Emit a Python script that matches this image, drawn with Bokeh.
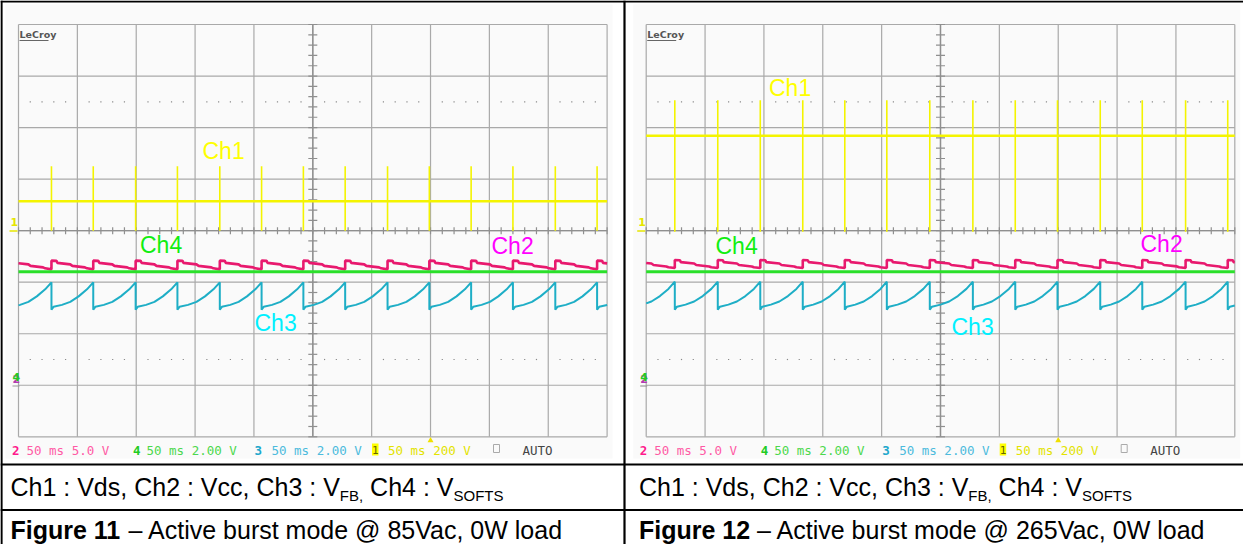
import numpy as np
from bokeh.plotting import figure
from bokeh.models import Range1d
from bokeh.core.properties import value
from bokeh.embed import file_html
from bokeh.resources import INLINE

# ---------------- data (time in ms, 50 ms/div; levels in screen divisions) ----------------
spikes_11_ms = [28.0, 63.5, 99.5, 135.0, 171.0, 206.5, 242.0, 277.5, 313.5, 349.0, 384.5, 420.0, 456.0, 491.5]
resets_11_ms = [-7.6] + spikes_11_ms + [527.1]
spikes_12_ms = [24.3, 60.8, 96.9, 133.0, 168.7, 204.4, 240.9, 277.5, 313.5, 349.4, 385.7, 421.4, 458.2, 494.0]
resets_12_ms = [-11.8] + spikes_12_ms + [530.1]

vds_base_11, vds_peak_11, vds_floor_11 = 0.57, 1.25, 0.0
vds_base_12, vds_peak_12, vds_floor_12 = 1.84, 2.53, -0.02

cycle_frac_vcc = [0, 0.12, 0.14, 0.45, 0.5, 0.8, 0.85, 1.0]
vcc_11 = [-0.582, -0.586, -0.625, -0.654, -0.683, -0.712, -0.731, -0.751]
vcc_12 = [-0.570, -0.574, -0.610, -0.638, -0.666, -0.694, -0.710, -0.726]
cycle_frac_fb = [0, 0.05, 0.25, 0.45, 0.65, 0.85, 1.0]
vfb_11 = [-1.533, -1.478, -1.440, -1.381, -1.275, -1.139, -1.003]
vfb_12 = [-1.533, -1.475, -1.435, -1.375, -1.270, -1.130, -0.990]
vsofts_11 = -0.796
vsofts_12 = -0.796

time_ticks_ms = [0, 50, 100, 150, 200, 250, 300, 350, 400, 450, 500]
div_ticks = [-4, -3, -2, -1, 0, 1, 2, 3, 4]

status_items = [  # (x offset px, text, colour, bold)
    (19.5, "2", "#ff1a8c", "bold"), (34.0, "50 ms 5.0 V", "#ff5aa5", "normal"),
    (140.5, "4", "#22cc22", "bold"), (154.0, "50 ms 2.00 V", "#4cd84c", "normal"),
    (262.0, "3", "#1fa8cc", "bold"), (279.0, "50 ms 2.00 V", "#4cbbdd", "normal"),
    (395.5, "50 ms 200 V", "#e3e300", "normal"), (530.0, "AUTO", "#444444", "normal"),
]

panels = [
    dict(name="L", gl=26.0, gr=614.6, off=0.0, spikes=spikes_11_ms, resets=resets_11_ms,
         base=vds_base_11, peak=vds_peak_11, floor=vds_floor_11, vcc=vcc_11, vfb=vfb_11, vsofts=vsofts_11,
         labels=[("Ch1", 210, 158, "#ffff00"), ("Ch4", 147.5, 252, "#11ee11"),
                 ("Ch2", 499, 253, "#ff00ff"), ("Ch3", 262, 330, "#00f0ff")],
         cap1_x=18.0, fig="Figure 11", rest="\u2013 Active burst mode @ 85Vac, 0W load"),
    dict(name="R", gl=653.7, gr=1242.3, off=627.7, spikes=spikes_12_ms, resets=resets_12_ms,
         base=vds_base_12, peak=vds_peak_12, floor=vds_floor_12, vcc=vcc_12, vfb=vfb_12, vsofts=vsofts_12,
         labels=[("Ch1", 776.5, 95, "#ffff00"), ("Ch4", 723, 253, "#11ee11"),
                 ("Ch2", 1148, 251, "#ff00ff"), ("Ch3", 959, 334, "#00f0ff")],
         cap1_x=646.5, fig="Figure 12", rest="\u2013 Active burst mode @ 265Vac, 0W load"),
]

# ---------------- layout constants (page pixels; the figure sits at the 8 px page margin) ----------------
X0, X1, Y0, Y1 = 8, 1251, 8, 552
W, H = X1 - X0, Y1 - Y0
GRID_T, GRID_B = 32.0, 444.3

p = figure(width=W, height=H, x_range=Range1d(X0, X1), y_range=Range1d(Y1, Y0),
           output_backend="svg", toolbar_location=None, x_axis_location=None, y_axis_location=None,
           min_border=0, outline_line_color=None, background_fill_color="white",
           border_fill_color="white")
p.grid.visible = False

dpp = 8.0 / (GRID_B - GRID_T)
p.extra_y_ranges = {"div": Range1d(-4 - (Y1 - GRID_B) * dpp, 4 + (GRID_T - Y0) * dpp)}
xr = {}
for pn in panels:
    mpp = 500.0 / (pn["gr"] - pn["gl"])
    xr[pn["name"]] = Range1d(-(pn["gl"] - X0) * mpp, 500 + (X1 - pn["gr"]) * mpp)
p.extra_x_ranges = xr


def sawtooth(resets, fracs, vals):
    xs, ys = [], []
    for t0, t1 in zip(resets[:-1], resets[1:]):
        for f, v in zip(fracs, vals):
            xs.append(t0 + f * (t1 - t0))
            ys.append(v)
    xs = np.array(xs)
    ys = np.array(ys)
    keep = (xs > 0) & (xs < 500)
    y0 = np.interp(0.0, xs, ys)
    y1 = np.interp(500.0, xs, ys)
    return np.r_[0.0, xs[keep], 500.0], np.r_[y0, ys[keep], y1]


GRID_C = "#a9a9a9"
AX_C = "#8f8f8f"
minor_ms = [i * 10 for i in range(51)]
minor_div = [i * 0.2 - 4 for i in range(41)]
dot_ms = [i * 10 for i in range(51) if i % 5 != 0]
SP = 278 * 0.025  # width of a space at 25 px
CAP1_Y, SUB_Y, CAP2_Y = 494.5, 502.5, 537.5

for pn in panels:
    n = pn["name"]
    kw = dict(x_range_name=n, y_range_name="div")
    # scope screen background
    p.quad(left=pn["off"] + 13, right=pn["off"] + 620, top=12, bottom=466,
           fill_color="#fafafa", line_color=None)
    # graticule
    p.segment(x0=time_ticks_ms, x1=time_ticks_ms, y0=-4, y1=4, line_color=GRID_C, line_width=1.2, **kw)
    p.segment(x0=0, x1=500, y0=div_ticks, y1=div_ticks, line_color=GRID_C, line_width=1.2, **kw)
    p.segment(x0=250, x1=250, y0=-4, y1=4, line_color=AX_C, line_width=1.4, **kw)
    p.segment(x0=0, x1=500, y0=0, y1=0, line_color=AX_C, line_width=1.4, **kw)
    p.scatter(x=minor_ms, y=0, marker="dash", size=7, angle=np.pi / 2, line_color=AX_C, line_width=1.2, **kw)
    p.scatter(x=250, y=minor_div, marker="dash", size=9, line_color=AX_C, line_width=1.2, **kw)
    p.scatter(x=dot_ms * 2, y=[2.5] * len(dot_ms) + [-2.5] * len(dot_ms), marker="square", size=1.2,
              line_color=None, fill_color="#8a8a8a", **kw)

    # Ch3 V_FB
    x3, y3 = sawtooth(pn["resets"], cycle_frac_fb, pn["vfb"])
    p.line(x3, y3, line_color="#1eaec6", line_width=2.0, **kw)
    # Ch2 Vcc
    x2, y2 = sawtooth(pn["resets"], cycle_frac_vcc, pn["vcc"])
    p.line(x2, y2, line_color="#e8196e", line_width=2.6, **kw)
    # Ch4 V_SOFTS
    p.line([0, 500], [pn["vsofts"], pn["vsofts"]], line_color="#2ae02a", line_width=3.0, **kw)
    # Ch1 Vds
    p.line([0, 500], [pn["base"], pn["base"]], line_color="#f4f400", line_width=2.6, **kw)
    p.segment(x0=pn["spikes"], x1=pn["spikes"], y0=pn["floor"], y1=pn["peak"],
              line_color="#f4f400", line_width=1.6, **kw)

    # trigger marker
    p.scatter(x=350, y=448, marker="triangle", size=6, fill_color="#f0e000", line_color=None,
              x_range_name=n)

    # ground markers
    o = pn["off"]
    p.text(x=o + 18, y=229, text=["1"], text_color="#e6e600", text_font=value("DejaVu Sans"),
           text_font_size="11px", text_font_style="bold", text_baseline="middle")
    p.segment(x0=o + 17, x1=o + 25, y0=238.5, y1=238.5, line_color="#e6e600", line_width=1.5)
    p.text(x=o + 20, y=386, text=["2"], text_color="#b03cb0", text_font=value("DejaVu Sans"),
           text_font_size="11px", text_font_style="bold", text_baseline="middle")
    p.text(x=o + 20, y=384, text=["4"], text_color="#22cc22", text_font=value("DejaVu Sans"),
           text_font_size="11px", text_font_style="bold", text_baseline="middle")
    p.segment(x0=o + 20, x1=o + 27, y0=393.5, y1=393.5, line_color="#999999", line_width=1.2)

    # LeCroy logo
    p.text(x=o + 27, y=41.5, text=["LeCroy"], text_color="#555555", text_font=value("DejaVu Sans"),
           text_font_size="9.5px", text_font_style="bold", text_baseline="middle")
    p.segment(x0=o + 27, x1=o + 56, y0=48, y1=48, line_color="#666666", line_width=1.2)

    # status line
    for dx, t, c, st in status_items:
        p.text(x=o + dx, y=457.5, text=[t], text_color=c, text_font=value("DejaVu Sans Mono"),
               text_font_size="12.5px", text_font_style=st, text_baseline="middle")
    p.quad(left=o + 379.5, right=o + 386, top=451, bottom=463, fill_color="#ffff00", line_color=None)
    p.text(x=o + 382.8, y=457.5, text=["1"], text_color="#666600", text_font=value("DejaVu Sans Mono"),
           text_font_size="11px", text_align="center", text_baseline="middle")
    p.quad(left=o + 501, right=o + 507, top=452, bottom=460, fill_color=None, line_color="#aaaaaa",
           line_width=1)

    # channel labels
    for t, lx, ly, c in pn["labels"]:
        p.text(x=lx, y=ly, text=[t], text_color=c, text_font=value("Liberation Sans"),
               text_font_size="23px", text_baseline="middle")

    # captions
    cx = pn["cap1_x"]
    f = value("Liberation Sans")
    p.text(x=cx, y=CAP1_Y, text=["Ch1 : Vds, Ch2 : Vcc, Ch3 : V"], text_font=f, text_font_size="25px",
           text_color="black", text_baseline="middle")
    sx = cx + 13173 * 0.025
    p.text(x=sx, y=SUB_Y, text=["FB,"], text_font=f, text_font_size="15px", text_color="black",
           text_baseline="middle")
    sx2 = sx + 1556 * 0.015 + SP
    p.text(x=sx2, y=CAP1_Y, text=["Ch4 : V"], text_font=f, text_font_size="25px", text_color="black",
           text_baseline="middle")
    sx3 = sx2 + 3335 * 0.025
    p.text(x=sx3, y=SUB_Y, text=["SOFTS"], text_font=f, text_font_size="15px", text_color="black",
           text_baseline="middle")
    p.text(x=cx, y=CAP2_Y, text=[pn["fig"]], text_font=f, text_font_size="25px", text_color="black",
           text_font_style="bold", text_baseline="middle")
    p.text(x=cx + 4446 * 0.025 + SP, y=CAP2_Y, text=[pn["rest"]], text_font=f, text_font_size="25px",
           text_color="black", text_baseline="middle")

# table rules (outer left/top edges drawn at the figure's edge)
p.segment(x0=[9, 632], x1=[9, 632], y0=[8, 8], y1=[552, 552], line_color="black", line_width=2.2)
p.segment(x0=[8, 8, 8], x1=[1251, 1251, 1251], y0=[9, 472, 517.5], y1=[9, 472, 517.5],
          line_color="black", line_width=2.2)

open("out.html", "w").write(file_html(p, INLINE))
